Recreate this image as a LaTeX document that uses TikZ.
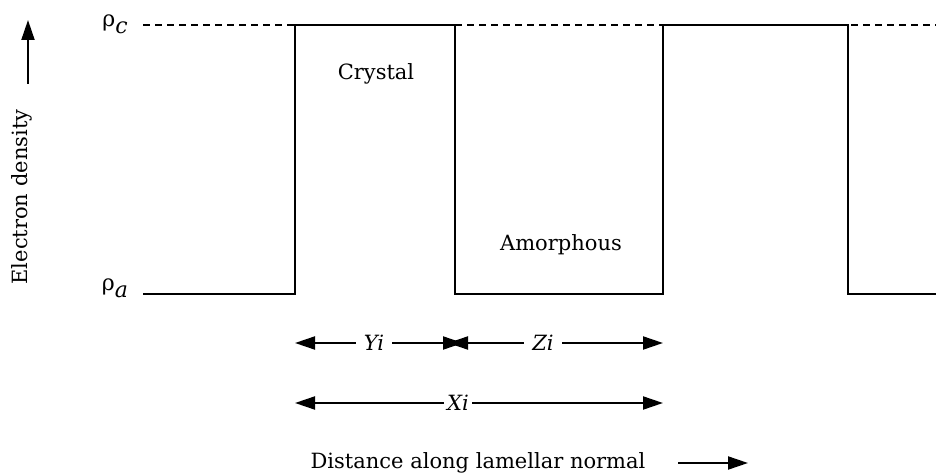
\documentclass[tikz,border=0pt]{standalone}
\usepackage{fontspec}
\setmainfont{DejaVu Serif}
\usetikzlibrary{arrows.meta}
\begin{document}
\begin{tikzpicture}[x=1pt,y=-1pt, line width=2pt,
  tip/.style={-{Triangle[length=20pt,width=13pt]}},
  dtip/.style={{Triangle[length=20pt,width=13pt]}-{Triangle[length=20pt,width=13pt]}},
  lbl/.style={font=\fontsize{21}{25}\selectfont, inner sep=0pt},
  rholbl/.style={font=\fontsize{22}{26}\selectfont, inner sep=0pt},
  gaplbl/.style={font=\fontsize{21}{25}\selectfont\itshape, fill=white, inner xsep=8pt, inner ysep=2pt},
  dash line/.style={line width=1.6pt, dash pattern=on 7pt off 5pt},
  ]
\useasboundingbox (0,0) rectangle (937,473);

% density levels
\node[rholbl] (rc) at (115,24) {ρ\raisebox{-7pt}{\itshape c}};
\node[rholbl] (ra) at (115,288) {ρ\raisebox{-7pt}{\itshape a}};

\coordinate (d0) at (143,25);
\coordinate (d1) at (936,25);
\draw[dash line] (d0) -- (d1);

\coordinate (s0) at (143,294);
\coordinate (a1) at (295,294);
\coordinate (b1) at (295,25);
\coordinate (b2) at (455,25);
\coordinate (a2) at (455,294);
\coordinate (a3) at (663,294);
\coordinate (b3) at (663,25);
\coordinate (b4) at (848,25);
\coordinate (a4) at (848,294);
\coordinate (a5) at (936,294);
\draw[line join=miter] (s0) -- (a1) -- (b1) -- (b2) -- (a2) -- (a3) -- (b3) -- (b4) -- (a4) -- (a5);

\node[lbl] (cr) at (376,74) {Crystal};
\node[lbl] (am) at (561,245) {Amorphous};

% y axis
\node[lbl, rotate=90] (ed) at (22,197) {Electron density};
\coordinate (ya0) at (28,84);
\coordinate (ya1) at (28,20);
\draw[tip] (ya0) -- (ya1);

% dimension arrows
\coordinate (y0) at (295,343);
\coordinate (y1) at (463,343);
\coordinate (z0) at (448,343);
\coordinate (z1) at (663,343);
\draw[dtip] (y0) -- (y1);
\draw[dtip] (z0) -- (z1);
\node[gaplbl] (yl) at (374,343) {Yi};
\node[gaplbl] (zl) at (543,343) {Zi};

\coordinate (x0) at (295,403);
\coordinate (x1) at (663,403);
\draw[dtip] (x0) -- (x1);
\node[gaplbl, inner xsep=3pt] (xl) at (458,403) {Xi};

% x axis
\node[lbl, anchor=base] (dist) at (478,468) {Distance along lamellar normal};
\coordinate (xa0) at (678,463);
\coordinate (xa1) at (748,463);
\draw[tip] (xa0) -- (xa1);
\end{tikzpicture}
\end{document}
